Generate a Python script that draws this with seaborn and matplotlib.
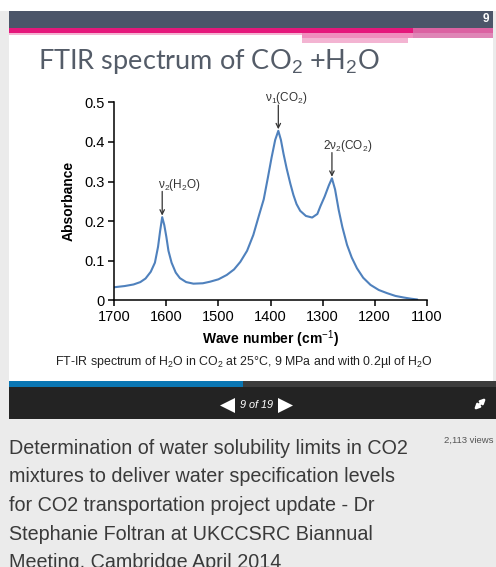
import matplotlib
matplotlib.use("Agg")
import matplotlib.pyplot as plt
from matplotlib.patches import Rectangle, Polygon
import seaborn as sns
import pandas as pd

# FT-IR spectrum of water in supercritical CO2
wavenumber = [1700, 1680, 1663, 1650, 1640, 1630, 1622, 1616, 1612, 1608,
              1604, 1600, 1596, 1590, 1582, 1574, 1562, 1548, 1530, 1516,
              1500, 1484, 1470, 1458, 1445, 1433, 1422, 1413, 1405, 1398,
              1391, 1385, 1380, 1375, 1369, 1362, 1356, 1350, 1343, 1332,
              1320, 1310, 1304, 1296, 1288, 1282, 1276, 1269, 1262, 1253,
              1244, 1234, 1222, 1208, 1192, 1176, 1160, 1144, 1130, 1118]
absorbance = [0.033, 0.036, 0.040, 0.046, 0.055, 0.072, 0.095, 0.135, 0.175, 0.210,
              0.190, 0.160, 0.125, 0.095, 0.070, 0.056, 0.046, 0.042, 0.043, 0.047,
              0.053, 0.064, 0.078, 0.097, 0.125, 0.165, 0.215, 0.255, 0.310, 0.360,
              0.405, 0.428, 0.405, 0.370, 0.333, 0.295, 0.266, 0.243, 0.226, 0.213,
              0.209, 0.218, 0.238, 0.262, 0.290, 0.308, 0.280, 0.228, 0.185, 0.140,
              0.108, 0.081, 0.057, 0.039, 0.026, 0.018, 0.011, 0.007, 0.004, 0.002]

x_ticks = [1700, 1600, 1500, 1400, 1300, 1200, 1100]
y_ticks = [0, 0.1, 0.2, 0.3, 0.4, 0.5]
y_tick_labels = ["0", "0.1", "0.2", "0.3", "0.4", "0.5"]

# band assignments: label, peak wavenumber, peak absorbance
band_labels = ["ν$_2$(H$_2$O)", "ν$_1$(CO$_2$)", "2ν$_2$(CO$_2$)"]
band_pos = [1608, 1385, 1282]
band_abs = [0.210, 0.428, 0.308]
label_shift_pt = [12, 6, 11]   # horizontal offset of each label from its arrow

slide_title = r"FTIR spectrum of CO$_2$ +H$_2$O"
caption = r"FT-IR spectrum of H$_2$O in CO$_2$ at 25°C, 9 MPa and with 0.2µl of H$_2$O"
talk_title = ["Determination of water solubility limits in CO2",
              "mixtures to deliver water specification levels",
              "for CO2 transportation project update - Dr",
              "Stephanie Foltran at UKCCSRC Biannual",
              "Meeting, Cambridge April 2014"]
views = "2,113 views"
slide_counter = "9 of 19"
slide_number = "9"

sns.set_theme(style="white")
plt.rcParams["font.family"] = ["Liberation Sans", "DejaVu Sans"]
plt.rcParams["mathtext.fontset"] = "custom"
plt.rcParams["mathtext.rm"] = "Liberation Sans"
plt.rcParams["mathtext.it"] = "Liberation Sans:italic"
plt.rcParams["mathtext.bf"] = "Liberation Sans:bold"

W, H = 496, 567
fig = plt.figure(figsize=(W / 100, H / 100), dpi=100)
fig.patch.set_facecolor("#ebebeb")

# page layer in pixel coordinates
bg = fig.add_axes([0, 0, 1, 1])
bg.set_xlim(0, W)
bg.set_ylim(H, 0)
bg.axis("off")
bg.set_zorder(0)

def rect(x0, y0, x1, y1, color, **kw):
    bg.add_patch(Rectangle((x0, y0), x1 - x0, y1 - y0, facecolor=color,
                           edgecolor="none", **kw))

rect(0, 0, W, 11, "white")
rect(9, 11, 493, 381, "white")
rect(9, 11, 493, 27.5, "#4b5569")
rect(9, 27.5, 493, 33, "#e5177b")
rect(9, 33, 493, 34.5, "#f5b3d2")
# faded ribbon under the header
rect(302, 33, 493, 38, "#f08dbd")
rect(302, 38, 408, 43, "#f3b4d2")
rect(413, 28, 493, 38, "#d883b4", alpha=0.7)
bg.text(489, 19.5, slide_number, color="white", fontsize=8.5, fontweight="bold",
        ha="right", va="center")

bg.text(38, 62, slide_title, color="#545c68", fontsize=19.5,
        family=["Lato", "DejaVu Sans"], ha="left", va="center")

bg.text(244, 362, caption, color="#222222", fontsize=8.9, ha="center", va="center")

# player controls
rect(9, 381, W, 386.5, "#3d3d3d")
rect(9, 381, 243, 386.5, "#0a76b3")
rect(9, 386.5, W, 418.5, "#232323")
bg.add_patch(Polygon([[220, 405.5], [235, 398], [235, 413]], closed=True,
                     facecolor="white", edgecolor="none"))
bg.add_patch(Polygon([[278, 398], [293, 405.5], [278, 413]], closed=True,
                     facecolor="white", edgecolor="none"))
bg.text(257, 405.5, slide_counter, color="white", fontsize=7.8, style="italic",
        ha="center", va="center")
bg.annotate("", xy=(486, 398), xytext=(474, 410),
            arrowprops=dict(arrowstyle="<|-|>", color="white", lw=1.8,
                            mutation_scale=7, shrinkA=0, shrinkB=0))

for i, line in enumerate(talk_title):
    bg.text(9, 448 + i * 28.7, line, color="#3a3a3a", fontsize=14.2,
            ha="left", va="center")
bg.text(493, 440, views, color="#555555", fontsize=6.8, ha="right", va="center")

# spectrum axes
ax = fig.add_axes([114.3 / W, 1 - 300.3 / H, 312.4 / W, 198 / H])
ax.set_zorder(2)
ax.patch.set_alpha(0)
df = pd.DataFrame({"Wave number": wavenumber, "Absorbance": absorbance})
sns.lineplot(data=df, x="Wave number", y="Absorbance", ax=ax, sort=False,
             color="#4f81bd", linewidth=1.5)
ax.set_xlim(1700, 1100)
ax.set_ylim(0, 0.5)
ax.set_xticks(x_ticks)
ax.set_xticklabels([str(t) for t in x_ticks])
ax.set_yticks(y_ticks)
ax.set_yticklabels(y_tick_labels)
for side in ("top", "right"):
    ax.spines[side].set_visible(False)
for side in ("left", "bottom"):
    ax.spines[side].set_color("black")
    ax.spines[side].set_linewidth(1.1)
ax.tick_params(axis="both", direction="out", length=4, width=1.1, color="black",
               labelsize=10.5, labelcolor="black", bottom=True, left=True, pad=3)
ax.set_xlabel("Wave number (cm$^{-1}$)", fontsize=10, fontweight="bold",
              color="black", labelpad=3)
ax.set_ylabel("Absorbance", fontsize=10, fontweight="bold", color="black",
              labelpad=6)

for lab, wn, a, dx in zip(band_labels, band_pos, band_abs, label_shift_pt):
    ax.annotate("", xy=(wn, a + 0.004), xytext=(wn, a + 0.065),
                arrowprops=dict(arrowstyle="->", color="#333333", lw=0.9,
                                mutation_scale=8, shrinkA=0, shrinkB=0),
                annotation_clip=False)
    ax.annotate(lab, xy=(wn, a + 0.082), xytext=(dx, 0),
                textcoords="offset points", fontsize=8.5, color="#333333",
                ha="center", va="center", annotation_clip=False)

fig.savefig("out.png", dpi=100, facecolor=fig.get_facecolor())
